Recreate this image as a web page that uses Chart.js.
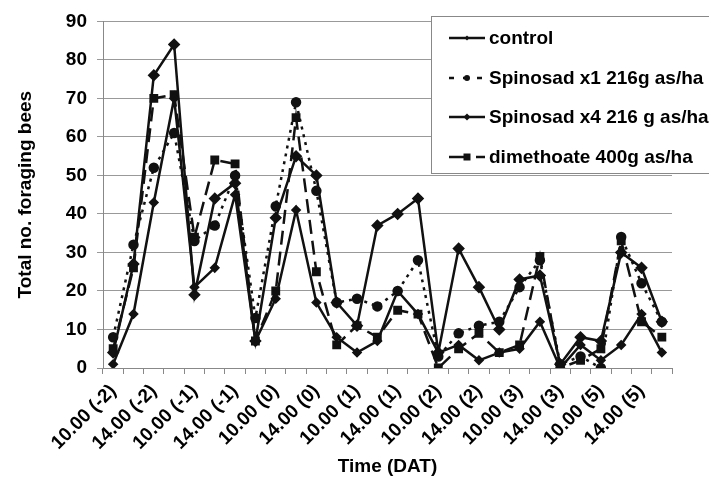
<!DOCTYPE html>
<html>
<head>
<meta charset="utf-8">
<script src="https://cdn.jsdelivr.net/npm/chart.js@4.4.1/dist/chart.umd.min.js"></script>
<style>
  html, body { margin: 0; padding: 0; background: #fff; }
</style>
</head>
<body>
<canvas id="chart" width="709" height="490"></canvas>
<script>
// time of observation (days after treatment in brackets)
const categories = [
  '10.00 (-2)', '12.00 (-2)', '14.00 (-2)', '16.00 (-2)',
  '10.00 (-1)', '12.00 (-1)', '14.00 (-1)', '16.00 (-1)',
  '10.00 (0)', '12.00 (0)', '14.00 (0)', '16.00 (0)',
  '10.00 (1)', '12.00 (1)', '14.00 (1)', '16.00 (1)',
  '10.00 (2)', '12.00 (2)', '14.00 (2)', '16.00 (2)',
  '10.00 (3)', '12.00 (3)', '14.00 (3)', '16.00 (3)',
  '10.00 (5)', '12.00 (5)', '14.00 (5)', '16.00 (5)'
];

const control    = [1, 14, 43, 70, 21, 26, 45, 7, 18, 41, 17, 8, 4, 7, 20, 14, 4, 6, 2, 4, 5, 12, 0, 6, 2, 6, 14, 4];
const spinosadX1 = [8, 32, 52, 61, 33, 37, 50, 13, 42, 69, 46, 17, 18, 16, 20, 28, 3, 9, 11, 12, 21, 28, 1, 3, 0, 34, 22, 12];
const spinosadX4 = [4, 27, 76, 84, 19, 44, 48, 7, 39, 55, 50, 17, 11, 37, 40, 44, 4, 31, 21, 10, 23, 24, 1, 8, 7, 30, 26, 12];
const dimethoate = [5, 26, 70, 71, 34, 54, 53, 7, 20, 65, 25, 6, 11, 8, 15, 14, 0, 5, 9, 4, 6, 29, 0, 2, 5, 33, 12, 8];

const yTicks = [0, 10, 20, 30, 40, 50, 60, 70, 80, 90];

Chart.defaults.font.family = '"Liberation Sans", Arial, sans-serif';
Chart.defaults.font.weight = 'bold';
Chart.defaults.font.size = 19;
Chart.defaults.color = '#000';

const ink = '#111';

// legend drawn as a boxed list inside the plot, top right
const boxLegend = {
  id: 'boxLegend',
  afterDraw(chart) {
    const ctx = chart.ctx;
    const x0 = 431, y0 = 16, x1 = 720, y1 = 173;
    ctx.save();
    ctx.fillStyle = '#fff';
    ctx.fillRect(x0, y0, x1 - x0, y1 - y0);
    ctx.strokeStyle = '#888';
    ctx.lineWidth = 1;
    ctx.strokeRect(x0 + 0.5, y0 + 0.5, x1 - x0, y1 - y0);

    const rows = [38, 78, 117, 157];
    chart.data.datasets.forEach((ds, i) => {
      const y = rows[i];
      ctx.strokeStyle = ink;
      ctx.lineWidth = ds.borderWidth;
      ctx.setLineDash(ds.legendDash || []);
      ctx.beginPath();
      ctx.moveTo(449, y);
      ctx.lineTo(485, y);
      ctx.stroke();
      ctx.setLineDash([]);

      const r = ds.pointRadius - 1;
      const cx = 467;
      ctx.fillStyle = ink;
      ctx.beginPath();
      if (ds.pointStyle === 'circle') {
        ctx.arc(cx, y, r, 0, Math.PI * 2);
      } else if (ds.pointStyle === 'rect') {
        ctx.rect(cx - r, y - r, r * 2, r * 2);
      } else {
        ctx.moveTo(cx, y - r); ctx.lineTo(cx + r, y);
        ctx.lineTo(cx, y + r); ctx.lineTo(cx - r, y);
        ctx.closePath();
      }
      ctx.fill();

      ctx.font = 'bold 19px "Liberation Sans", Arial, sans-serif';
      ctx.fillStyle = '#000';
      ctx.textBaseline = 'middle';
      ctx.textAlign = 'left';
      ctx.fillText(ds.label, 489, y + 1);
    });
    ctx.restore();
  }
};

new Chart(document.getElementById('chart'), {
  type: 'line',
  data: {
    labels: categories,
    datasets: [
      {
        label: 'control',
        data: control,
        borderColor: ink, backgroundColor: ink,
        borderWidth: 2.5,
        pointStyle: 'rectRot', pointRadius: 3.5
      },
      {
        label: 'Spinosad x1 216g as/ha',
        data: spinosadX1,
        borderColor: ink, backgroundColor: ink,
        borderWidth: 2.5, borderDash: [3, 5],
        legendDash: [5, 9],
        pointStyle: 'circle', pointRadius: 4
      },
      {
        label: 'Spinosad x4 216 g as/ha',
        data: spinosadX4,
        borderColor: ink, backgroundColor: ink,
        borderWidth: 2.5,
        pointStyle: 'rectRot', pointRadius: 4.5
      },
      {
        label: 'dimethoate 400g as/ha',
        data: dimethoate,
        borderColor: ink, backgroundColor: ink,
        borderWidth: 2.5, borderDash: [14, 7],
        legendDash: [20, 7],
        pointStyle: 'rect', pointRadius: 4.5
      }
    ]
  },
  options: {
    responsive: false,
    animation: false,
    events: [],
    elements: { line: { tension: 0 } },
    layout: { padding: { left: 0, right: 37, top: 16, bottom: 0 } },
    plugins: {
      legend: { display: false },
      tooltip: { enabled: false }
    },
    scales: {
      x: {
        offset: true,
        afterFit: (scale) => { scale.height = 122; },
        grid: { offset: true, drawOnChartArea: false, tickLength: 6, color: '#888' },
        border: { color: '#888' },
        ticks: {
          autoSkip: false, minRotation: 45, maxRotation: 45, padding: 6,
          callback: (v, i) => (i % 2 === 0 ? categories[i] : '')
        },
        title: { display: true, text: 'Time (DAT)', padding: { top: 0, bottom: 12 } }
      },
      y: {
        min: 0, max: 90,
        afterFit: (scale) => { scale.width = 103; },
        afterBuildTicks: (scale) => { scale.ticks = yTicks.map(v => ({ value: v })); },
        grid: { color: '#999', tickLength: 6 },
        border: { color: '#888' },
        ticks: { padding: 10 },
        title: { display: true, text: 'Total no. foraging bees', padding: { top: 14, bottom: 0 } }
      }
    }
  },
  plugins: [boxLegend]
});
</script>
</body>
</html>
